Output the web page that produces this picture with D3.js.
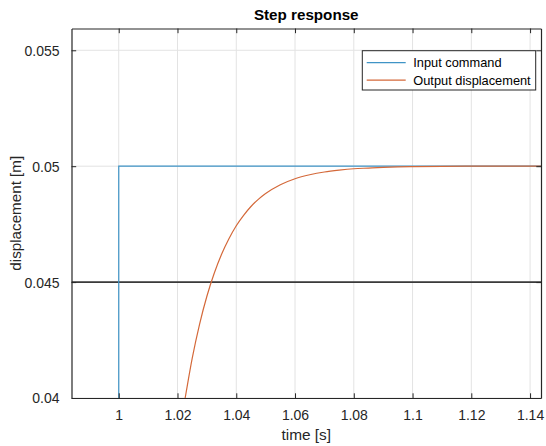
<!DOCTYPE html>
<html>
<head>
<meta charset="utf-8">
<script src="https://cdn.jsdelivr.net/npm/d3@7"></script>
<style>
  html, body { margin: 0; padding: 0; background: #ffffff; }
  svg { display: block; font-family: "Liberation Sans", Arial, Helvetica, sans-serif; }
</style>
</head>
<body>
<svg id="chart" width="546" height="446"></svg>
<script>
// Step input (time [s], displacement [m])
const inputTime  = [0.98, 1.0, 1.0, 1.15];
const inputValue = [0.0, 0.0, 0.05, 0.05];

// Measured output displacement (time [s], displacement [m])
const outputTime  = [1.015, 1.02, 1.0226, 1.025, 1.0275, 1.03, 1.0325, 1.035, 1.0375, 1.04, 1.0425, 1.045, 1.0475,
                     1.05, 1.055, 1.06, 1.065, 1.07, 1.075, 1.08, 1.085, 1.09, 1.095, 1.1, 1.11, 1.12, 1.13, 1.15];
const outputValue = [0.0330, 0.0381, 0.0400, 0.04171, 0.04318, 0.04439, 0.04538, 0.04620, 0.04687, 0.04743, 0.04788, 0.04826, 0.04857,
                     0.04882, 0.04920, 0.04946, 0.04963, 0.04975, 0.04983, 0.04989, 0.04992, 0.04995, 0.04997, 0.04998, 0.04999, 0.05, 0.05, 0.05];

// Reference level drawn across the plot
const refLevel = [0.045];

// Axis ticks and labels
const xTicks = [1, 1.02, 1.04, 1.06, 1.08, 1.1, 1.12, 1.14];
const xTickLabels = ["1", "1.02", "1.04", "1.06", "1.08", "1.1", "1.12", "1.14"];
const yTicks = [0.04, 0.045, 0.05, 0.055];
const yTickLabels = ["0.04", "0.045", "0.05", "0.055"];

const seriesNames = ["Input command", "Output displacement"];
const seriesColors = ["#3f94c6", "#d4693a"];

const svg = d3.select("#chart");
const plot = { left: 71.5, right: 541, top: 28.5, bottom: 398 };

const x = d3.scaleLinear().domain([0.98392, 1.14372]).range([plot.left, plot.right]);
const y = d3.scaleLinear().domain([0.04, 0.05594]).range([plot.bottom, plot.top]);

const axisColor = "#262626";
const gridColor = "#e3e3e3";

svg.append("defs").append("clipPath").attr("id", "plotClip")
  .append("rect")
  .attr("x", plot.left).attr("y", plot.top)
  .attr("width", plot.right - plot.left).attr("height", plot.bottom - plot.top);

// Grid
const grid = svg.append("g");
grid.selectAll(".gx").data(xTicks).join("line")
  .attr("x1", d => x(d)).attr("x2", d => x(d))
  .attr("y1", plot.top).attr("y2", plot.bottom)
  .attr("stroke", gridColor).attr("stroke-width", 1);
grid.selectAll(".gy").data(yTicks).join("line")
  .attr("x1", plot.left).attr("x2", plot.right)
  .attr("y1", d => y(d)).attr("y2", d => y(d))
  .attr("stroke", gridColor).attr("stroke-width", 1);

// Data lines
const lines = svg.append("g").attr("clip-path", "url(#plotClip)");

lines.selectAll(".ref").data(refLevel).join("line")
  .attr("x1", plot.left).attr("x2", plot.right)
  .attr("y1", d => y(d)).attr("y2", d => y(d))
  .attr("stroke", "#3a3a3a").attr("stroke-width", 1.6);

const lineGen = d3.line().x(d => x(d[0])).y(d => y(d[1]));
const inputPts = inputTime.map((t, i) => [t, inputValue[i]]);
const outputPts = outputTime.map((t, i) => [t, outputValue[i]]);
const outputCurve = d3.line().x(d => x(d[0])).y(d => y(d[1])).curve(d3.curveMonotoneX);

lines.append("path").attr("d", lineGen(inputPts))
  .attr("fill", "none").attr("stroke", seriesColors[0]).attr("stroke-width", 1.2);
lines.append("path").attr("d", outputCurve(outputPts))
  .attr("fill", "none").attr("stroke", seriesColors[1]).attr("stroke-width", 1.2);

// Axes with inward ticks on all four sides
const tickLen = 4.7;
const fmtX = d => xTickLabels[xTicks.indexOf(d)];
const fmtY = d => yTickLabels[yTicks.indexOf(d)];

const axB = svg.append("g").attr("transform", `translate(0,${plot.bottom})`)
  .call(d3.axisBottom(x).tickValues(xTicks).tickFormat(fmtX).tickSizeInner(-tickLen).tickSizeOuter(0).tickPadding(12));
const axT = svg.append("g").attr("transform", `translate(0,${plot.top})`)
  .call(d3.axisTop(x).tickValues(xTicks).tickFormat("").tickSizeInner(-tickLen).tickSizeOuter(0));
const axL = svg.append("g").attr("transform", `translate(${plot.left},0)`)
  .call(d3.axisLeft(y).tickValues(yTicks).tickFormat(fmtY).tickSizeInner(-tickLen).tickSizeOuter(0).tickPadding(12));
const axR = svg.append("g").attr("transform", `translate(${plot.right},0)`)
  .call(d3.axisRight(y).tickValues(yTicks).tickFormat("").tickSizeInner(-tickLen).tickSizeOuter(0));

[axB, axT, axL, axR].forEach(a => {
  a.select(".domain").attr("stroke", axisColor).attr("stroke-width", 1.2);
  a.selectAll(".tick line").attr("stroke", axisColor).attr("stroke-width", 1);
  a.selectAll(".tick text").attr("fill", axisColor).style("font-size", "14px");
});
axB.selectAll(".tick text").attr("dy", "0.71em");
axL.selectAll(".tick text").attr("dy", "0.35em");

// Titles
svg.append("text").attr("x", (plot.left + plot.right) / 2).attr("y", 20)
  .attr("text-anchor", "middle").style("font-size", "15.2px").style("font-weight", "bold")
  .attr("fill", "#000").text("Step response");
svg.append("text").attr("x", (plot.left + plot.right) / 2).attr("y", 440)
  .attr("text-anchor", "middle").style("font-size", "15.4px")
  .attr("fill", axisColor).text("time [s]");
svg.append("text")
  .attr("transform", `translate(20.5,${(plot.top + plot.bottom) / 2}) rotate(-90)`)
  .attr("text-anchor", "middle").style("font-size", "15.2px")
  .attr("fill", axisColor).text("displacement [m]");

// Legend
const lg = svg.append("g");
lg.append("rect").attr("x", 362.3).attr("y", 50.7).attr("width", 173.4).attr("height", 39.3)
  .attr("fill", "#fff").attr("stroke", axisColor).attr("stroke-width", 1);
seriesNames.forEach((name, i) => {
  const cy = 62.7 + i * 17.5;
  lg.append("line").attr("x1", 366.7).attr("x2", 405.7).attr("y1", cy).attr("y2", cy)
    .attr("stroke", seriesColors[i]).attr("stroke-width", 1.2);
  lg.append("text").attr("x", 413.3).attr("y", cy).attr("dy", "0.35em")
    .style("font-size", "12.8px").attr("fill", "#000").text(name);
});
</script>
</body>
</html>
